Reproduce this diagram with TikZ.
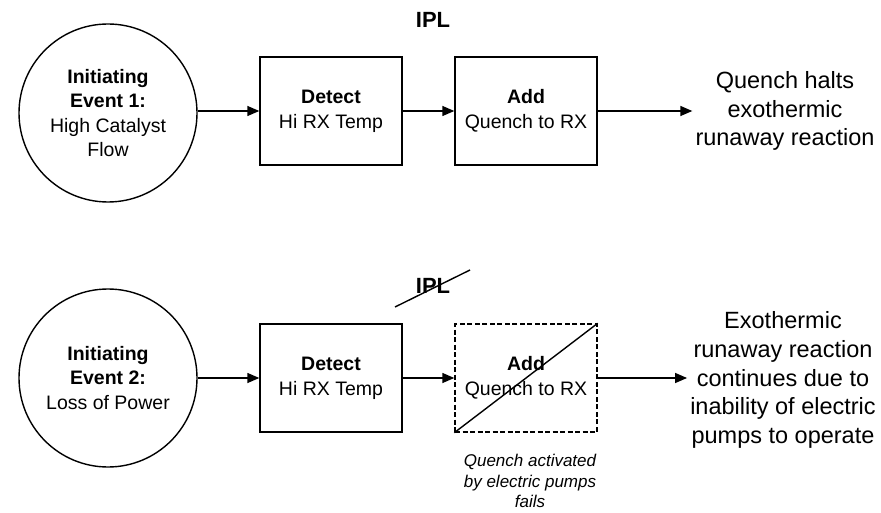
\documentclass[tikz,border=0pt]{standalone}
\usepackage{fontspec}
\setmainfont{Liberation Sans}
\usepackage{tikz}
\usetikzlibrary{arrows.meta, positioning}

\begin{document}
\begin{tikzpicture}[x=1pt,y=-1pt,
  event/.style={draw, line width=1.4pt, circle, minimum size=178pt, inner sep=0pt, align=center, font=\fontsize{19.5}{24.5}\selectfont},
  ipl/.style={draw, line width=1.4pt, minimum width=142pt, minimum height=108pt, inner sep=0pt, align=center, font=\fontsize{19.5}{25}\selectfont},
  outcome/.style={inner sep=3pt, align=center, font=\fontsize{23.5}{28.7}\selectfont},
  flow/.style={line width=1.4pt, -{Triangle[length=12pt,width=10pt]}}]
\useasboundingbox (0,0) rectangle (881,513);
% row 1
\node[font=\fontsize{22}{26}\selectfont\bfseries] (ipltop) at (433,20) {IPL};
\node[event] (ev1) at (108,113) {\textbf{Initiating}\\ \textbf{Event 1:}\\ High Catalyst\\ Flow};
\node[ipl] (det1) at (331,111) {\textbf{Detect}\\ Hi RX Temp};
\node[ipl] (add1) at (526,111) {\textbf{Add}\\ Quench to RX};
\node[outcome] (out1) at (785,111) {Quench halts\\ exothermic\\ runaway reaction};
\draw[flow] (ev1.east |- det1.west) -- (det1.west);
\draw[flow] (det1) -- (add1);
\draw[flow] (add1) -- (out1);
% row 2
\node[font=\fontsize{22}{26}\selectfont\bfseries] (iplbot) at (433,286) {IPL};
\coordinate (sa) at (395,307);
\coordinate (sb) at (470,270);
\draw[line width=1.4pt] (sa) -- (sb);
\node[event] (ev2) at (108,378) {\textbf{Initiating}\\ \textbf{Event 2:}\\ Loss of Power};
\node[ipl] (det2) at (331,378) {\textbf{Detect}\\ Hi RX Temp};
\node[ipl, dash pattern=on 5pt off 2.5pt] (add2) at (526,378) {\textbf{Add}\\ Quench to RX};
\draw[line width=1.4pt] (add2.south west) -- (add2.north east);
\node[outcome] (out2) at (783,380) {Exothermic\\ runaway reaction\\ continues due to\\ inability of electric\\ pumps to operate};
\node[align=center, font=\fontsize{17}{20.5}\selectfont\itshape] (fail) at (530,481) {Quench activated\\ by electric pumps\\ fails};
\draw[flow] (ev2) -- (det2);
\draw[flow] (det2) -- (add2);
\draw[flow] (add2) -- (add2.east -| out2.west);
\end{tikzpicture}
\end{document}
